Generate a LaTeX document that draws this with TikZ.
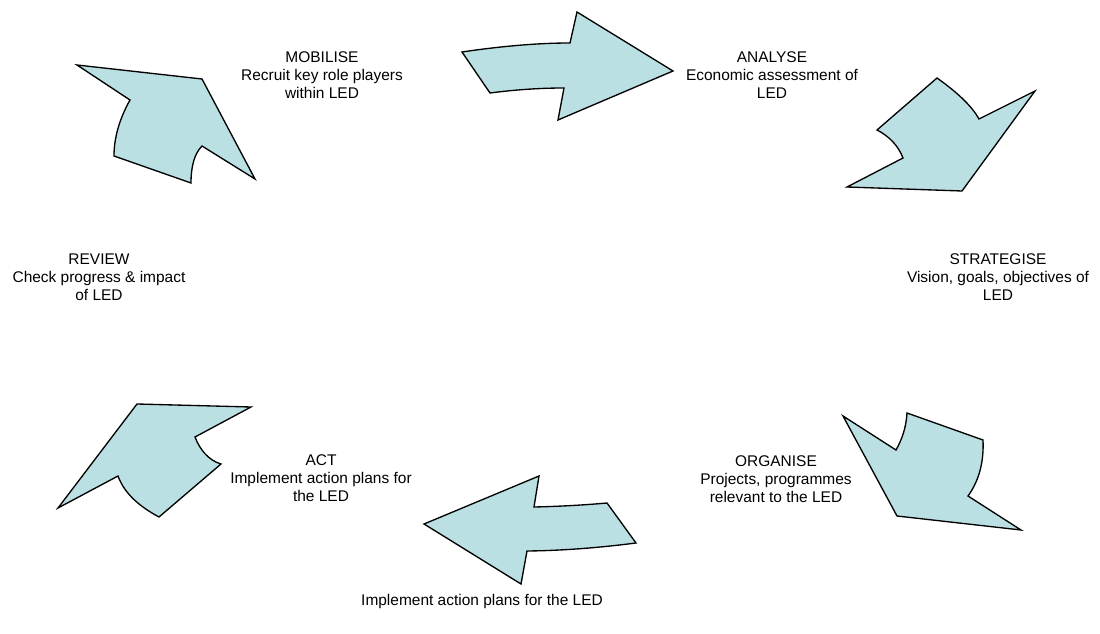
\documentclass[tikz,border=0pt]{standalone}
\usepackage{fontspec}
\setmainfont{Liberation Sans}
\usepackage{tikz}
\definecolor{Ink}{HTML}{000000}
\definecolor{CycleFill}{HTML}{BBE0E3}
\tikzset{
  cyclearrow/.style={draw=Ink,fill=CycleFill,line width=1pt,line join=miter},
  stage/.style={align=center,font=\fontsize{11.6}{13.5}\selectfont,inner sep=0pt,text=Ink}
}
\begin{document}
\begin{tikzpicture}[x=0.75pt,y=-0.75pt]
  \useasboundingbox (0,0) rectangle (1100,634);
  % arrows of the cycle
  \draw[cyclearrow] (77,65) -- (202,79) -- (255,179) -- (202,146)
    .. controls (194.7,153.3) and (191,165.7) .. (191,183) -- (114,156)
    .. controls (114,138) and (119.3,119.2) .. (130,100) -- cycle;
  \draw[cyclearrow] (462,52) .. controls (502.5,46) and (538.7,43) .. (570,43) -- (577,12) -- (673,71)
    -- (558,120) -- (564,88) .. controls (540,88) and (515.3,89.7) .. (490,93) -- cycle;
  \draw[cyclearrow] (937,78) .. controls (958.2,93) and (972.2,106.7) .. (979,119) -- (1035,91) -- (962,191)
    -- (847,187) -- (903,158) .. controls (898.3,145.8) and (889.4,136.4) .. (877,130) -- cycle;
  \draw[cyclearrow] (843,416) -- (896,450) .. controls (902.2,439.1) and (906.2,427) .. (907,413) -- (983,440)
    .. controls (984,461.9) and (979.1,480.7) .. (968,496) -- (1021,530) -- (897,516) -- cycle;
  \draw[cyclearrow] (424,524) -- (539,476) -- (534,507) .. controls (558,506.5) and (585,505) .. (607,503)
    -- (636,543) .. controls (594,548.4) and (557.6,550.7) .. (527,551) -- (521,584) -- cycle;
  \draw[cyclearrow] (137,404) -- (251,407) -- (195,437) .. controls (199.7,449.2) and (208.2,460.3) .. (221,464)
    -- (159,517) .. controls (137.6,505.5) and (124,492.4) .. (118,476) -- (58,508) -- cycle;
  % stage texts
  \node[stage] (mobilise) at (322,75) {MOBILISE\\Recruit key role players\\within LED};
  \node[stage] (analyse) at (772,75) {ANALYSE\\Economic assessment of\\LED};
  \node[stage] (strategise) at (998,277) {STRATEGISE\\Vision, goals, objectives of\\LED};
  \node[stage] (organise) at (776,479) {ORGANISE\\Projects, programmes\\relevant to the LED};
  \node[stage] (act) at (321,478) {ACT\\Implement action plans for\\the LED};
  \node[stage] (review) at (99,277) {REVIEW\\Check progress \& impact\\of LED};
  \node[stage] (bottom) at (482,602) {Implement action plans for the LED};
\end{tikzpicture}
\end{document}
